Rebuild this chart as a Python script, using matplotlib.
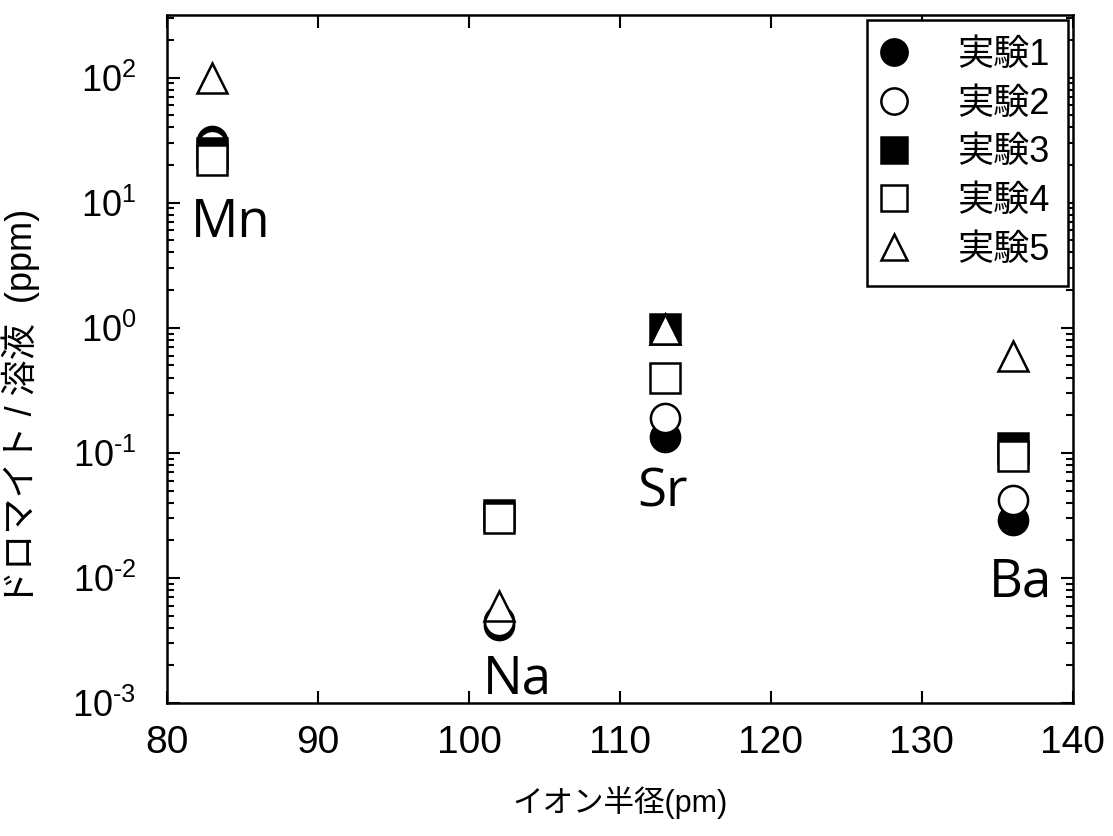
import math

import matplotlib
matplotlib.use("Agg")
import matplotlib.pyplot as plt
from matplotlib.ticker import FixedLocator, LogLocator, FuncFormatter, NullFormatter

# ion radius (pm) of each element
elements = ["Mn", "Na", "Sr", "Ba"]
radius = [83, 102, 113, 136]

# partition ratio dolomite / solution, one list per experiment
exp1 = [31, 0.0042, 0.135, 0.029]
exp2 = [29, 0.0045, 0.19, 0.042]
exp3 = [25, 0.032, 0.97, 0.11]
exp4 = [22, 0.030, 0.40, 0.095]
exp5 = [100, 0.0060, 0.97, 0.60]
series_labels = ["実験1", "実験2", "実験3", "実験4", "実験5"]

x_ticks = [80, 90, 100, 110, 120, 130, 140]

plt.rcParams["font.family"] = ["Liberation Sans", "Noto Sans CJK JP", "DejaVu Sans"]
plt.rcParams["mathtext.fontset"] = "custom"
plt.rcParams["mathtext.rm"] = "Liberation Sans"
plt.rcParams["mathtext.it"] = "Liberation Sans"


def pow10(v, pos):
    n = round(math.log10(v))
    if n < 0:
        return r"$\mathregular{10^{\text{-}%d}}$" % (-n)
    return r"$\mathregular{10^{%d}}$" % n


fig = plt.figure(figsize=(11.13, 8.36), dpi=100)
ax = fig.add_axes([0.150, 0.159, 0.814, 0.823])

styles = [
    dict(marker="o", mfc="black"),
    dict(marker="o", mfc="white"),
    dict(marker="s", mfc="black"),
    dict(marker="s", mfc="white"),
    dict(marker="^", mfc="white"),
]
for ys, st, lab in zip([exp1, exp2, exp3, exp4, exp5], styles, series_labels):
    ax.plot(radius, ys, linestyle="none", marker=st["marker"], markersize=21,
            markerfacecolor=st["mfc"], markeredgecolor="black", markeredgewidth=1.8,
            label=lab)

# element names next to their points
label_pos = {"Mn": (84.2, 6.8), "Na": (103.2, 0.00155), "Sr": (112.8, 0.048), "Ba": (136.5, 0.0091)}
for el in elements:
    lx, ly = label_pos[el]
    ax.text(lx, ly, el, ha="center", va="center", fontsize=38, family="Open Sans")

ax.set_yscale("log")
ax.set_xlim(80, 140)
ax.set_ylim(1e-3, 10 ** 2.5)
ax.xaxis.set_major_locator(FixedLocator(x_ticks))
ax.yaxis.set_major_locator(LogLocator(base=10, numticks=10))
ax.yaxis.set_minor_locator(LogLocator(base=10, subs=range(2, 10), numticks=20))
ax.yaxis.set_minor_formatter(NullFormatter())
ax.yaxis.set_major_formatter(FuncFormatter(pow10))

ax.tick_params(which="both", direction="in", top=True, right=True, width=1.5)
ax.tick_params(which="major", length=9)
ax.tick_params(which="minor", length=5)
ax.tick_params(axis="x", labelsize=28, pad=16)
ax.tick_params(axis="y", labelsize=26, pad=22)
for s in ax.spines.values():
    s.set_linewidth(1.8)

ax.set_xlabel("イオン半径(pm)", fontsize=22, labelpad=18)
ax.set_ylabel("ドロマイト / 溶液  (ppm)", fontsize=26)
ax.yaxis.set_label_coords(-0.140, 0.43)

leg = ax.legend(loc="upper right", fontsize=26, markerscale=0.9, handletextpad=1.5,
                borderpad=0.5, labelspacing=0.38, handlelength=0.5, fancybox=False,
                framealpha=1, edgecolor="black", borderaxespad=0,
                bbox_to_anchor=(0.9945, 0.993))
leg.get_frame().set_linewidth(1.8)

fig.savefig("out.png", dpi=100)
